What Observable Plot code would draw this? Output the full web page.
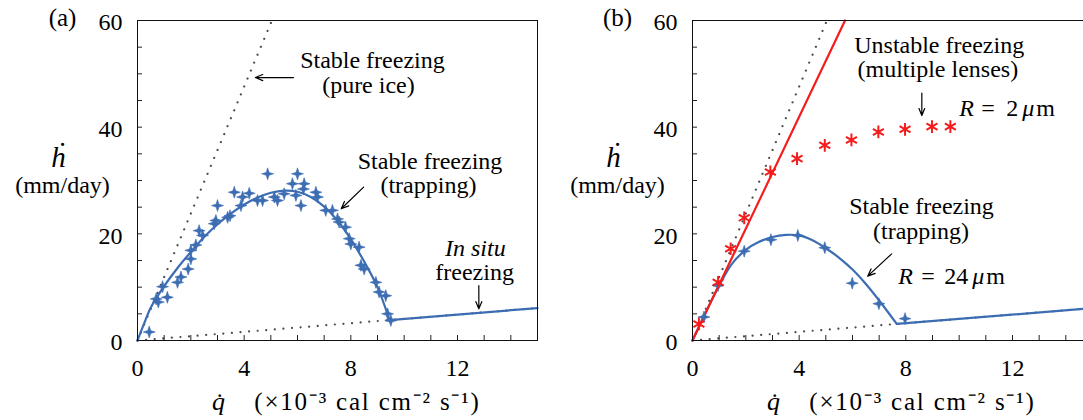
<!DOCTYPE html>
<html><head><meta charset="utf-8">
<script src="https://cdn.jsdelivr.net/npm/d3@7"></script>
<script src="https://cdn.jsdelivr.net/npm/@observablehq/plot@0.6"></script>
<style>
body{margin:0;background:#fff}
#wrap{position:relative;width:1083px;height:420px;overflow:hidden;background:#fff}
#pa,#pb{position:absolute;top:0;width:560px;height:420px}
#pa{left:0}
#pb{left:555px}
#wrap svg{max-width:none !important;width:560px;height:420px}
#wrap .xunits text{letter-spacing:1.8px}
</style></head><body>
<div id="wrap"><div id="pa"></div><div id="pb"></div></div>
<script>
// ---------- data ----------
const xTickLabels = [0, 4, 8, 12];
const yTickLabels = [0, 20, 40, 60];
const xMinorTicks = d3.range(0, 16, 1);
const yMinorTicks = d3.range(0, 61, 5);

// panel (a) measured points
const aPtsX = [0.44,0.7,0.78,0.94,1.12,1.5,1.63,1.9,2.0,2.0,2.19,2.31,2.44,2.88,2.94,3.0,3.38,3.47,3.63,3.88,3.94,4.19,4.5,4.69,4.88,5.13,5.25,5.5,5.81,6.0,5.94,6.13,6.25,6.22,6.69,6.75,7.06,7.31,7.5,7.56,7.8,7.94,8.0,8.31,8.38,8.5,8.94,9.06,9.31,9.38,9.5];
const aPtsY = [1.6,7.8,7.2,10.1,8.1,10.9,11.9,13.4,15.3,16.9,17.9,20.6,19.7,21.9,22.5,25.3,23.1,23.4,27.8,25.3,26.9,27.6,26.25,26.25,31.25,26.9,26.25,27.5,29.4,31.25,27.2,25.3,29.4,28.4,27.8,26.9,24.4,24.4,22.8,22.2,21.25,19.1,18.1,17.5,14.1,13.4,10.9,9.1,8.4,5.0,3.75];
// panel (a) fitted curve (trapping) and in-situ branch
const aCurveX = [0,0.25,0.5,1,1.5,2,2.5,3,3.5,4,4.5,5,5.5,6,6.5,7,7.5,8,8.5,9,9.45];
const aCurveY = [0,3.2,6.2,10.2,13.6,16.6,19.4,21.8,23.8,25.5,26.8,27.7,28.1,27.9,26.9,25.1,22.5,19.0,14.8,10.0,3.83];
const aInSituX = [9.45, 15];
const aInSituY = [3.83, 6.08];
// theoretical dotted lines
const pureIceX = [0, 5.04];
const pureIceY = [0, 60];
const inSituDotX = [0, 15];
const inSituDotY = [0, 6.08];

// panel (b)
const bRedX = [0.24,0.96,1.43,1.94,2.92,3.92,4.96,5.96,6.97,7.97,8.98,9.67];
const bRedY = [3.1,10.9,17.2,23.0,31.6,34.1,36.6,37.6,39.1,39.6,40.1,40.1];
const bRedLineX = [0, 5.72];
const bRedLineY = [0, 60];
const bBlueX = [0.43,0.96,1.94,2.94,3.95,4.96,5.99,6.99,7.97];
const bBlueY = [4.4,10.3,16.75,18.9,19.7,17.4,10.75,6.9,4.1];
const bCurveX = [0,0.5,1,1.5,2,2.5,3,3.5,4,4.5,5,5.5,6,6.5,7,7.66];
const bCurveY = [0,5.3,10.3,14.5,17.0,18.5,19.4,19.8,19.7,18.8,17.3,15.5,13.3,10.6,7.5,3.1];
const bInSituX = [7.66, 15];
const bInSituY = [3.1, 6.08];

// texts
const xLabelVar = "q\u0307";
const xLabelUnits = "(×10⁻³ cal cm⁻² s⁻¹)";
const yLabelVar = "ḣ";
const yLabelUnits = "(mm/day)";

// annotations (data coordinates)
const annA = [
  {text: "Stable freezing", x: 8.81, y: 52.6, italic: false},
  {text: "(pure ice)", x: 8.66, y: 47.9, italic: false},
  {text: "Stable freezing", x: 10.97, y: 33.6, italic: false},
  {text: "(trapping)", x: 10.91, y: 29.1, italic: false},
  {text: "In situ", x: 12.67, y: 17.2, italic: true},
  {text: "freezing", x: 12.64, y: 12.8, italic: false}
];
const arrowsA = [
  {x1: 5.85, y1: 49.3, x2: 4.42, y2: 49.3},
  {x1: 8.48, y1: 28.75, x2: 7.64, y2: 24.7},
  {x1: 12.8, y1: 10.3, x2: 12.8, y2: 5.94}
];
const annB = [
  {text: "Unstable freezing", x: 9.25, y: 55.3, italic: false},
  {text: "(multiple lenses)", x: 9.2, y: 50.8, italic: false},
  {text: "Stable freezing", x: 8.59, y: 25.2, italic: false},
  {text: "(trapping)", x: 8.57, y: 20.5, italic: false}
];
const arrowsB = [
  {x1: 8.6, y1: 46.4, x2: 8.6, y2: 42.2},
  {x1: 7.47, y1: 16.25, x2: 6.57, y2: 12.06}
];
// radius labels split into pieces (R italic, μ italic)
const radiusB = [
  {t: "R", x: 10.0, y: 43.6, dx: 0, italic: true},
  {t: "=", x: 10.0, y: 43.6, dx: 22, italic: false},
  {t: "2", x: 10.0, y: 43.6, dx: 47, italic: false},
  {t: "μ", x: 10.0, y: 43.6, dx: 63, italic: true},
  {t: "m", x: 10.0, y: 43.6, dx: 77, italic: false},
  {t: "R", x: 7.72, y: 12.1, dx: 0, italic: true},
  {t: "=", x: 7.72, y: 12.1, dx: 23, italic: false},
  {t: "24", x: 7.72, y: 12.1, dx: 46, italic: false},
  {t: "μ", x: 7.72, y: 12.1, dx: 74, italic: true},
  {t: "m", x: 7.72, y: 12.1, dx: 88, italic: false}
];

// ---------- helpers ----------
const BLUE = "#3c6db2";
const RED = "#f51c1c";
const DOT = "#4a4a4a";
const INK = "#000";
const FONT = "Liberation Serif";
const zip = (xs, ys, extra = {}) => xs.map((x, i) => ({x, y: ys[i], ...extra}));

const star4 = {
  draw(ctx, size) {
    const r = Math.sqrt(size / Math.PI);
    const w = r * 0.24;
    ctx.moveTo(0, -r);
    ctx.lineTo(w, -w);
    ctx.lineTo(r, 0);
    ctx.lineTo(w, w);
    ctx.lineTo(0, r);
    ctx.lineTo(-w, w);
    ctx.lineTo(-r, 0);
    ctx.lineTo(-w, -w);
    ctx.closePath();
  }
};

function frameText(str, opts) {
  return Plot.text([str], {text: d => d, textAnchor: "middle", lineAnchor: "middle", fontFamily: FONT, fill: INK, ...opts});
}

function baseMarks(panelLabel) {
  return [
    Plot.axisX({ticks: xMinorTicks, tickSize: 5, dy: -5, tickFormat: () => "", label: null, stroke: "#222"}),
    Plot.axisY({ticks: yMinorTicks, tickSize: 5, dx: 5, tickFormat: () => "", label: null, stroke: "#222"}),
    Plot.axisX({ticks: xTickLabels, tickSize: 0, tickPadding: 18, label: null, fontSize: 24, fontFamily: FONT, fill: INK}),
    Plot.axisY({ticks: yTickLabels, tickSize: 0, tickPadding: 15, dy: 2, label: null, fontSize: 24, fontFamily: FONT, fill: INK}),
    Plot.frame({stroke: "#111", strokeWidth: 1}),
    frameText(panelLabel, {frameAnchor: "top-left", dx: -75, dy: -2.5, fontSize: 25}),
    frameText(yLabelVar, {frameAnchor: "top-left", dx: -79, dy: 137, fontSize: 29, fontStyle: "italic"}),
    frameText(yLabelUnits, {frameAnchor: "top-left", dx: -75, dy: 165, fontSize: 24}),
    frameText(xLabelVar, {frameAnchor: "bottom-left", dx: 81, dy: 61, fontSize: 26, fontStyle: "italic"}),
    frameText(xLabelUnits, {frameAnchor: "bottom-left", dx: 230, dy: 61, fontSize: 25, className: "xunits"})
  ];
}

function dotted(xs, ys) {
  return Plot.line(zip(xs, ys), {x: "x", y: "y", stroke: DOT, strokeWidth: 2.2, strokeDasharray: "0.01 8.6", strokeLinecap: "round"});
}

function annotationMarks(ann, arrows) {
  return [
    Plot.text(ann.filter(d => !d.italic), {x: "x", y: "y", text: "text", fontSize: 24, fontFamily: FONT, fill: INK}),
    Plot.text(ann.filter(d => d.italic), {x: "x", y: "y", text: "text", fontSize: 24, fontStyle: "italic", fontFamily: FONT, fill: INK}),
    Plot.arrow(arrows, {x1: "x1", y1: "y1", x2: "x2", y2: "y2", stroke: INK, strokeWidth: 1.2, headLength: 10, headAngle: 45})
  ];
}

function makePlot(marks) {
  return Plot.plot({
    width: 560, height: 420,
    marginLeft: 137, marginRight: 23, marginTop: 20, marginBottom: 80,
    x: {domain: [0, 15]},
    y: {domain: [0, 60]},
    style: {fontFamily: FONT, fontSize: "24px", background: "transparent", overflow: "visible", color: INK},
    marks
  });
}

// ---------- panel (a) ----------
const curveA = [...zip(aCurveX, aCurveY, {seg: "trap"}), ...zip(aInSituX, aInSituY, {seg: "insitu"})];
const plotA = makePlot([
  dotted(pureIceX, pureIceY),
  dotted(inSituDotX, inSituDotY),
  Plot.line(curveA, {x: "x", y: "y", z: "seg", curve: "catmull-rom", stroke: BLUE, strokeWidth: 2.2}),
  Plot.dot(zip(aPtsX, aPtsY), {x: "x", y: "y", symbol: star4, r: 6, fill: BLUE, stroke: BLUE, strokeWidth: 0.6}),
  ...annotationMarks(annA, arrowsA),
  ...baseMarks("(a)")
]);
document.getElementById("pa").appendChild(plotA);

// ---------- panel (b) ----------
const curveB = [...zip(bCurveX, bCurveY, {seg: "trap"}), ...zip(bInSituX, bInSituY, {seg: "insitu"})];
const radiusMarks = radiusB.map(d => Plot.text([d], {
  x: "x", y: "y", text: "t", dx: d.dx, textAnchor: "start", fontSize: 24, fontFamily: FONT, fill: INK,
  ...(d.italic ? {fontStyle: "italic"} : {})
}));
const plotB = makePlot([
  dotted(pureIceX, pureIceY),
  dotted(inSituDotX, inSituDotY),
  Plot.line(curveB, {x: "x", y: "y", z: "seg", curve: "catmull-rom", stroke: BLUE, strokeWidth: 2.2}),
  Plot.line(zip(bRedLineX, bRedLineY), {x: "x", y: "y", stroke: RED, strokeWidth: 2.2}),
  Plot.dot(zip(bBlueX, bBlueY), {x: "x", y: "y", symbol: star4, r: 6, fill: BLUE, stroke: BLUE, strokeWidth: 0.6}),
  Plot.dot(zip(bRedX, bRedY), {x: "x", y: "y", symbol: "asterisk", r: 6, stroke: RED, strokeWidth: 2}),
  ...annotationMarks(annB, arrowsB),
  ...radiusMarks,
  ...baseMarks("(b)")
]);
document.getElementById("pb").appendChild(plotB);
</script>
</body></html>
